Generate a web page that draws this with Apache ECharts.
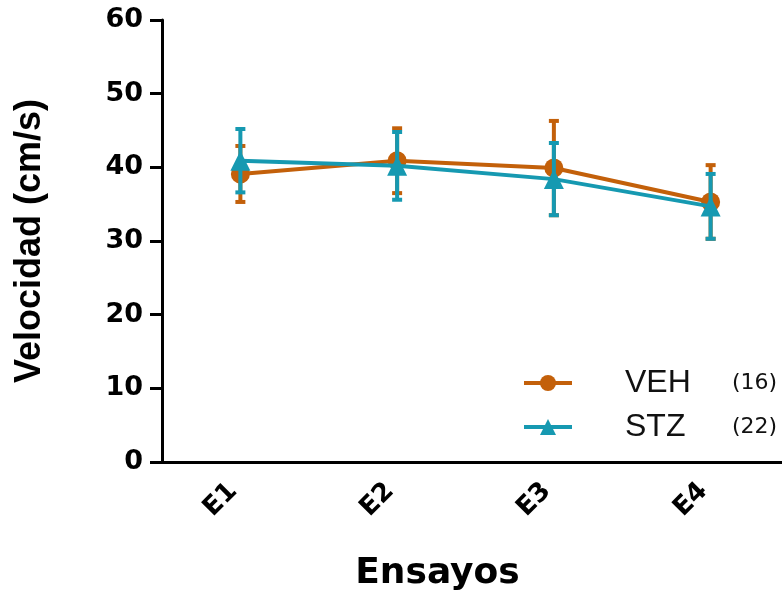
<!DOCTYPE html>
<html><head><meta charset="utf-8">
<script src="https://cdn.jsdelivr.net/npm/echarts@6/dist/echarts.min.js"></script>
<style>html,body{margin:0;padding:0;background:#fff}#c{width:782px;height:592px}</style>
</head><body><div id="c"></div>
<script>
const categories = ['E1', 'E2', 'E3', 'E4'];
const vehMean = [39.1, 40.9, 39.9, 35.3];
const vehErr = [3.8, 4.4, 6.4, 5.0];
const stzMean = [40.9, 40.2, 38.4, 34.7];
const stzErr = [4.3, 4.6, 4.9, 4.4];
const yTicks = [0, 10, 20, 30, 40, 50, 60];
const legendN = { VEH: '(16)', STZ: '(22)' };

const ORANGE = '#C3600A';
const TEAL = '#1699B1';

function errData(mean, err) {
  return mean.map((m, i) => [i, m - err[i], m + err[i]]);
}
function errRender(color) {
  return function (params, api) {
    const i = api.value(0);
    const lo = api.coord([i, api.value(1)]);
    const hi = api.coord([i, api.value(2)]);
    const w = 5;
    const style = { stroke: color, lineWidth: 4 };
    return {
      type: 'group',
      children: [
        { type: 'line', shape: { x1: hi[0], y1: hi[1], x2: lo[0], y2: lo[1] }, style },
        { type: 'line', shape: { x1: hi[0] - w, y1: hi[1], x2: hi[0] + w, y2: hi[1] }, style },
        { type: 'line', shape: { x1: lo[0] - w, y1: lo[1], x2: lo[0] + w, y2: lo[1] }, style }
      ]
    };
  };
}

const chart = echarts.init(document.getElementById('c'), null, { renderer: 'canvas' });
chart.setOption({
  animation: false,
  backgroundColor: '#fff',
  grid: { left: 162, top: 20, width: 627, height: 442, outerBoundsMode: 'none', containLabel: false },
  legend: {
    left: 517, top: 362, orient: 'vertical', itemGap: 12,
    itemWidth: 48, itemHeight: 20,
    data: ['VEH', 'STZ'],
    lineStyle: { width: 4 },
    formatter: name => '{n|' + name + '}{c|' + legendN[name] + '}',
    textStyle: {
      rich: {
        n: { fontFamily: 'Liberation Sans, Arial, sans-serif', fontSize: 32, color: '#111', width: 107, padding: [0, 0, 0, 48] },
        c: { fontFamily: 'DejaVu Sans, sans-serif', fontSize: 22, color: '#111' }
      }
    }
  },
  xAxis: {
    type: 'category', data: categories, boundaryGap: true,
    axisLine: { lineStyle: { color: '#000', width: 3 } },
    axisTick: { alignWithLabel: true, length: 10, lineStyle: { color: '#000', width: 3 } },
    axisLabel: { rotate: 45, margin: 18, padding: [0, 10, 0, 0], fontFamily: 'DejaVu Sans, sans-serif', fontWeight: 'bold', fontSize: 26, color: '#000' },
    name: 'Ensayos', nameLocation: 'middle', nameGap: 94,
    nameTextStyle: { fontFamily: 'DejaVu Sans, sans-serif', fontWeight: 'bold', fontSize: 36, color: '#000', padding: [0, 76, 0, 0] }
  },
  yAxis: {
    type: 'value', min: yTicks[0], max: yTicks[yTicks.length - 1], interval: 10,
    splitLine: { show: false },
    axisLine: { show: true, lineStyle: { color: '#000', width: 3 } },
    axisTick: { show: true, length: 12, lineStyle: { color: '#000', width: 3 } },
    axisLabel: { margin: 19, fontFamily: 'DejaVu Sans, sans-serif', fontWeight: 'bold', fontSize: 27, color: '#000' },
    name: 'Velocidad (cm/s)', nameLocation: 'middle', nameGap: 114,
    nameTextStyle: { fontFamily: 'Liberation Sans Narrow, Arial Narrow, sans-serif', fontWeight: 'bold', fontSize: 36, color: '#000' }
  },
  series: [
    { type: 'custom', name: 'VEHerr', data: errData(vehMean, vehErr), renderItem: errRender(ORANGE), z: 2, silent: true },
    { type: 'line', name: 'VEH', data: vehMean, color: ORANGE, symbol: 'circle', symbolSize: 19,
      lineStyle: { width: 4, color: ORANGE }, itemStyle: { color: ORANGE }, z: 3 },
    { type: 'custom', name: 'STZerr', data: errData(stzMean, stzErr), renderItem: errRender(TEAL), z: 4, silent: true },
    { type: 'line', name: 'STZ', data: stzMean, color: TEAL, symbol: 'triangle', symbolSize: 20,
      lineStyle: { width: 4, color: TEAL }, itemStyle: { color: TEAL }, z: 5 }
  ]
});
</script></body></html>
